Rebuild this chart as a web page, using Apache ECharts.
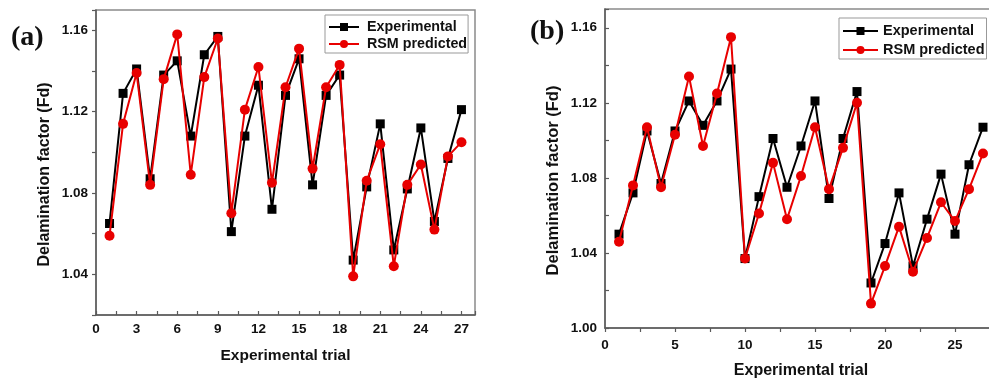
<!DOCTYPE html>
<html>
<head>
<meta charset="utf-8">
<script src="https://cdn.jsdelivr.net/npm/echarts@6/dist/echarts.min.js"></script>
<style>
  html, body { margin: 0; padding: 0; background: #fff; }
  #chart { width: 989px; height: 382px; }
</style>
</head>
<body>
<div id="chart"></div>
<script>
const trials = [1, 2, 3, 4, 5, 6, 7, 8, 9, 10, 11, 12, 13, 14, 15, 16, 17, 18, 19, 20, 21, 22, 23, 24, 25, 26, 27];

// panel (a)
const expA = [1.065, 1.129, 1.141, 1.087, 1.138, 1.145, 1.108, 1.148, 1.157, 1.061, 1.108, 1.133, 1.072, 1.128,
  1.146, 1.084, 1.128, 1.138, 1.047, 1.083, 1.114, 1.052, 1.082, 1.112, 1.066, 1.097, 1.121];
const rsmA = [1.059, 1.114, 1.139, 1.084, 1.136, 1.158, 1.089, 1.137, 1.156, 1.070, 1.121, 1.142, 1.085, 1.132,
  1.151, 1.092, 1.132, 1.143, 1.039, 1.086, 1.104, 1.044, 1.084, 1.094, 1.062, 1.098, 1.105];

// panel (b)
const expB = [1.050, 1.072, 1.105, 1.077, 1.105, 1.121, 1.108, 1.121, 1.138, 1.037, 1.070, 1.101, 1.075, 1.097,
  1.121, 1.069, 1.101, 1.126, 1.024, 1.045, 1.072, 1.033, 1.058, 1.082, 1.050, 1.087, 1.107];
const rsmB = [1.046, 1.076, 1.107, 1.075, 1.103, 1.134, 1.097, 1.125, 1.155, 1.037, 1.061, 1.088, 1.058, 1.081,
  1.107, 1.074, 1.096, 1.120, 1.013, 1.033, 1.054, 1.030, 1.048, 1.067, 1.057, 1.074, 1.093];

const seriesNames = ['Experimental', 'RSM predicted'];
const panelLabels = ['(a)', '(b)'];

const font = 'Liberation Sans, Arial, sans-serif';
const axisGrey = '#5a5a5a';

const pairs = (ys) => trials.map((t, i) => [t, ys[i]]);
const onStep = (v, step) => Math.abs(v / step - Math.round(v / step)) < 1e-6;

function xAxisFor(gridIndex, step, labelStep, tickInside, margin) {
  return {
    type: 'value', gridIndex, min: 0, max: 28, interval: step,
    name: 'Experimental trial', nameLocation: 'middle', nameGap: gridIndex === 0 ? 33 : 35,
    nameTextStyle: { fontFamily: font, fontWeight: 'bold', fontSize: gridIndex === 0 ? 15.5 : 16, color: '#111' },
    axisLine: { lineStyle: { color: axisGrey, width: 1.5 } },
    axisTick: { inside: tickInside, length: 4, lineStyle: { color: axisGrey, width: 1.2 } },
    axisLabel: {
      margin, fontFamily: font, fontWeight: 'bold', fontSize: 13.5, color: '#111',
      formatter: (v) => (onStep(v, labelStep) ? String(Math.round(v)) : '')
    },
    splitLine: { show: false }
  };
}

function yAxisFor(gridIndex, min, tickInside, nameGap) {
  return {
    type: 'value', gridIndex, min, max: 1.17, interval: 0.02,
    name: 'Delamination factor (Fd)', nameLocation: 'middle', nameGap,
    nameTextStyle: {
      fontFamily: font, fontWeight: 'bold', fontSize: gridIndex === 0 ? 16 : 16.5, color: '#111',
      padding: [0, 24, 0, 0]
    },
    axisLine: { show: true, lineStyle: { color: axisGrey, width: 1.5 } },
    axisTick: { show: true, inside: tickInside, length: 4, lineStyle: { color: axisGrey, width: 1.2 } },
    axisLabel: {
      margin: 8, fontFamily: font, fontWeight: 'bold', fontSize: 13.5, color: '#111',
      formatter: (v) => (Math.round(v * 100) % 4 === 0 ? v.toFixed(2) : '')
    },
    splitLine: { show: false }
  };
}

function lineSeries(name, idx, ys, color, symbol, size) {
  return {
    name, type: 'line', xAxisIndex: idx, yAxisIndex: idx,
    data: pairs(ys), symbol, symbolSize: size,
    lineStyle: { color, width: 2 },
    itemStyle: { color },
    animation: false, z: symbol === 'circle' ? 3 : 2
  };
}

const legendText = (size, gap) => ({
  fontFamily: font, fontWeight: 'bold', fontSize: size, color: '#111', padding: [0, 0, 0, gap]
});

const chart = echarts.init(document.getElementById('chart'));
chart.setOption({
  backgroundColor: '#fff',
  animation: false,
  title: [
    { text: panelLabels[0], left: 6, top: 19, textStyle: { fontFamily: 'Liberation Serif, Times New Roman, serif', fontWeight: 'bold', fontSize: 28, color: '#111' } },
    { text: panelLabels[1], left: 525, top: 13, textStyle: { fontFamily: 'Liberation Serif, Times New Roman, serif', fontWeight: 'bold', fontSize: 28, color: '#111' } }
  ],
  grid: [
    { left: 96, top: 10, width: 379, height: 305, outerBoundsMode: 'none', show: true, borderColor: '#8a8a8a', borderWidth: 1.5 },
    { left: 605, top: 9, width: 392, height: 319, outerBoundsMode: 'none', show: true, borderColor: '#8a8a8a', borderWidth: 1.5 }
  ],
  legend: [
    {
      data: seriesNames.map((n) => n), left: 325, top: 15, orient: 'vertical',
      itemWidth: 30, itemHeight: 10, itemGap: 3, padding: [5, 1, 2, 3],
      borderColor: '#999', borderWidth: 1, textStyle: legendText(14.3, 3),
      selectedMode: false
    },
    {
      data: seriesNames.map((n) => n), left: 839, top: 18, orient: 'vertical',
      itemWidth: 35, itemHeight: 10, itemGap: 4, padding: [5.5, 2, 1.5, 3],
      borderColor: '#999', borderWidth: 1, textStyle: legendText(14.5, 0),
      selectedMode: false
    }
  ],
  xAxis: [xAxisFor(0, 1.5, 3, true, 7), xAxisFor(1, 2.5, 5, false, 10)],
  yAxis: [yAxisFor(0, 1.02, false, 43), yAxisFor(1, 1.0, true, 43)],
  series: [
    lineSeries(seriesNames[0], 0, expA, '#000', 'rect', 9),
    lineSeries(seriesNames[1], 0, rsmA, '#e80000', 'circle', 10),
    lineSeries(seriesNames[0], 1, expB, '#000', 'rect', 9),
    lineSeries(seriesNames[1], 1, rsmB, '#e80000', 'circle', 10)
  ]
});
</script>
</body>
</html>
